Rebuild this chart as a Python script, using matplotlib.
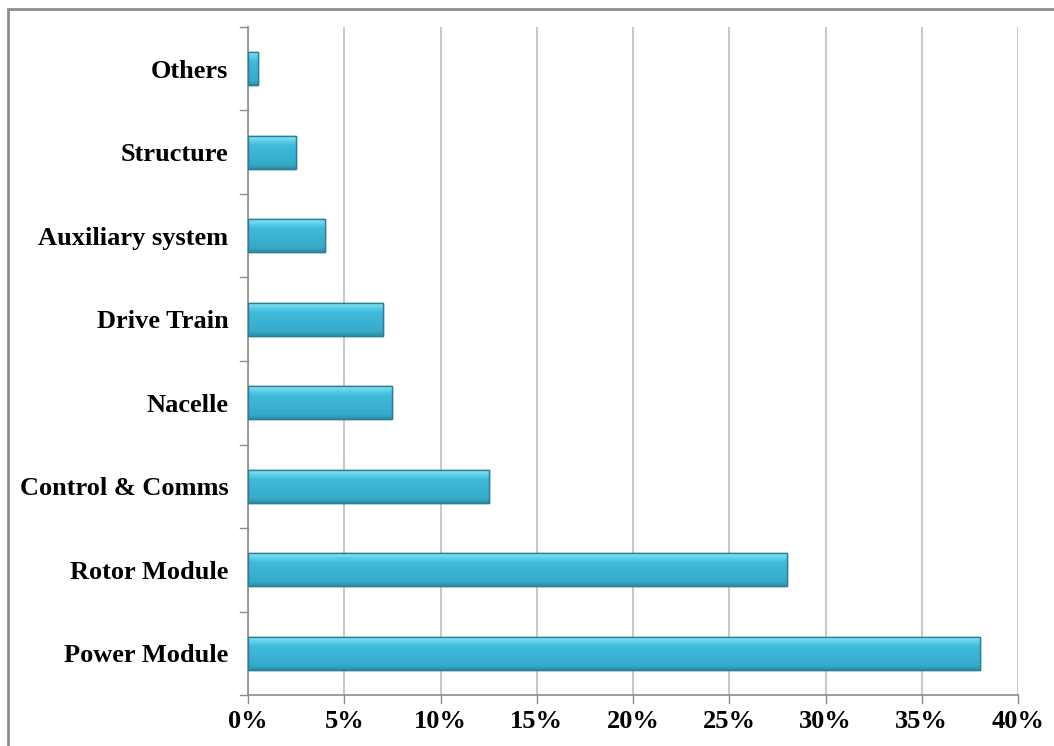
import numpy as np
import matplotlib.pyplot as plt
from matplotlib.patches import Rectangle
from matplotlib.colors import LinearSegmentedColormap

# 数据
categories = ['Power Module', 'Rotor Module', 'Control & Comms', 'Nacelle',
              'Drive Train', 'Auxiliary system', 'Structure', 'Others']
shares = [38, 28, 12.5, 7.5, 7, 4, 2.5, 0.5]
xticks = [0, 5, 10, 15, 20, 25, 30, 35, 40]
xticklabels = ['0%', '5%', '10%', '15%', '20%', '25%', '30%', '35%', '40%']

plt.rcParams['font.family'] = ['Liberation Serif', 'DejaVu Serif']

fig = plt.figure(figsize=(10.54, 7.46), dpi=100)
ax = fig.add_axes([248 / 1054, 1 - 695 / 746, 770 / 1054, 668 / 746])

# 外框
fig.patches.append(Rectangle((8 / 1054, -0.1), 1.2, 1 - 9 / 746 + 0.1,
                             transform=fig.transFigure, fill=False,
                             edgecolor='#8c8c8c', linewidth=2))

y = np.arange(len(categories))
bars = ax.barh(y, shares, height=0.4, color='#3ab2d2', edgecolor='#2b7f95',
               linewidth=1.0, zorder=3)

# 渐变效果
cmap = LinearSegmentedColormap.from_list(
    'cy', [(0, '#2a8ea8'), (0.12, '#36a9c9'), (0.7, '#40bbdc'),
           (0.85, '#62d2ec'), (1, '#95eaf8')])
grad = np.linspace(0, 1, 100).reshape(-1, 1)
for b in bars:
    x0, y0 = b.get_x(), b.get_y()
    w, h = b.get_width(), b.get_height()
    im = ax.imshow(grad, extent=(x0, x0 + w, y0, y0 + h), origin='lower',
                   aspect='auto', cmap=cmap, zorder=3.5)
    im.set_clip_path(b)
    ax.add_patch(Rectangle((x0, y0), w, h, fill=False, edgecolor='#2b7f95',
                           linewidth=1.0, zorder=4))

ax.set_xlim(0, 40)
ax.set_ylim(-0.5, len(categories) - 0.5)
ax.set_xticks(xticks)
ax.set_xticklabels(xticklabels, fontsize=19, fontweight='bold')
ax.set_yticks(y)
ax.set_yticklabels(categories, fontsize=19, fontweight='bold')
ax.tick_params(axis='y', length=0, pad=14)
ax.tick_params(axis='x', length=0, pad=11)

# 类别分隔刻度
for yb in np.arange(-0.5, len(categories), 1):
    ax.plot([-0.42, 0], [yb, yb], color='#8c8c8c', lw=1, clip_on=False, zorder=5)
for xt in xticks:
    ax.plot([xt, xt], [-0.5, -0.6], color='#8c8c8c', lw=1, clip_on=False, zorder=5)

ax.grid(axis='x', color='#bfbfbf', linewidth=1.2, zorder=0)
for s in ['top', 'right']:
    ax.spines[s].set_visible(False)
for s in ['left', 'bottom']:
    ax.spines[s].set_color('#8c8c8c')
    ax.spines[s].set_linewidth(1.2)

fig.savefig('out.png', dpi=100)
